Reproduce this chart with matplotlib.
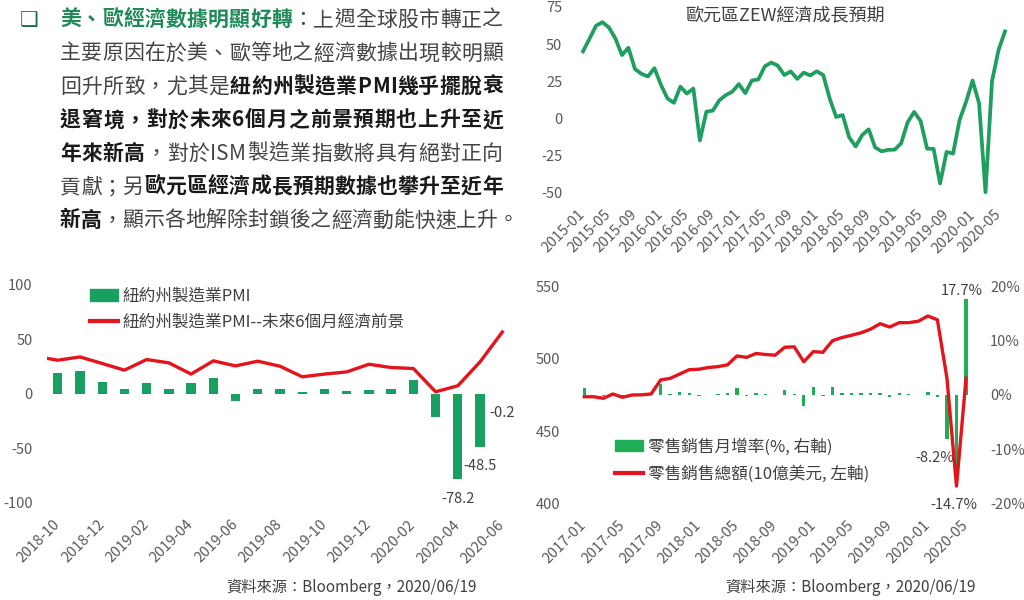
import matplotlib
matplotlib.use('Agg')
import matplotlib.pyplot as plt
from matplotlib.patches import Patch
from matplotlib.lines import Line2D
from matplotlib.font_manager import FontProperties, findfont, get_font
import numpy as np
import pandas as pd

try:
    from matplotlib.ft2font import LoadFlags
    NOHINT = LoadFlags.NO_HINTING
except ImportError:
    from matplotlib.ft2font import LOAD_NO_HINTING as NOHINT

plt.rcParams['font.family'] = ['Noto Sans CJK TC', 'DejaVu Sans']
plt.rcParams['axes.unicode_minus'] = False

# 歐元區ZEW經濟成長預期, 2015-01 ~ 2020-06
zew_months = pd.date_range('2015-01', periods=66, freq='MS').strftime('%Y-%m').tolist()
zew = [45.2, 53.7, 62.4, 64.8, 61.2, 53.7, 42.7, 47.6, 33.3, 30.1, 28.3, 33.9,
       22.7, 13.6, 10.6, 21.5, 16.8, 20.2, -14.7, 4.6, 5.4, 12.3, 15.8, 18.1,
       23.2, 17.1, 25.6, 26.3, 35.1, 37.7, 35.6, 29.3, 31.7, 26.7, 30.9, 29.0,
       31.8, 29.3, 13.4, 1.1, 2.4, -12.6, -18.7, -11.1, -7.2, -19.4, -22.0, -21.0,
       -20.9, -16.6, -2.5, 4.5, -1.6, -20.2, -20.3, -43.6, -22.4, -23.5, -1.0, 11.2,
       25.6, 10.4, -49.5, 25.2, 46.0, 58.6]

# 紐約州製造業PMI, 2018-10 ~ 2020-06
pmi_months = pd.date_range('2018-10', periods=21, freq='MS').strftime('%Y-%m').tolist()
pmi = [19.2, 20.7, 10.7, 4.3, 10.0, 4.6, 9.4, 14.5, -6.4, 4.3, 4.3, 1.6, 4.0, 2.8,
       3.4, 4.4, 12.5, -21.5, -78.2, -48.5, -0.2]
# 未來6個月經濟前景, 從2018-09開始 (左邊被裁掉半格)
pmi_future = [34.3, 30.7, 33.7, 27.7, 21.6, 31.3, 28.3, 18.0, 30.1, 25.5, 29.8,
              25.2, 15.5, 18.0, 20.0, 27.0, 24.0, 23.1, 1.8, 7.3, 29.2, 56.5]
pmi_labeled = [18, 19, 20]

# 美國零售銷售, 2017-01 ~ 2020-05
retail_months = pd.date_range('2017-01', periods=41, freq='MS').strftime('%Y-%m').tolist()
retail_total = [473.8, 473.8, 472.7, 475.7, 473.4, 475.0, 475.1, 475.7, 485.4, 486.5,
                489.5, 492.5, 492.8, 494.0, 494.6, 495.8, 502.0, 501.0, 503.7, 503.0,
                502.5, 508.0, 508.3, 498.0, 505.0, 504.5, 512.5, 514.7, 516.3, 518.0,
                520.5, 524.3, 522.0, 525.0, 525.0, 526.0, 529.6, 527.0, 486.6, 412.0,
                486.6]
retail_mom = [1.2, 0.05, -0.1, 0.1, -0.1, 0.1, 0.05, 0.1, 2.1, 0.2, 0.6, 0.4,
              -0.1, 0.05, 0.1, 0.3, 1.2, -0.15, 0.4, 0.1, 0.05, 1.0, 0.1, -2.1,
              1.4, -0.1, 1.5, 0.4, 0.3, 0.3, 0.3, 0.3, -0.3, 0.3, 0.1, 0.05,
              0.6, -0.3, -8.2, -14.7, 17.7]

# 左上角文字
text_lines = [
    [('美、歐經濟數據明顯好轉', 'head'), ('：上週全球股市轉正之', 'norm')],
    [('主要原因在於美、歐等地之經濟數據出現較明顯', 'norm')],
    [('回升所致，尤其是', 'norm'), ('紐約州製造業PMI幾乎擺脫衰', 'bold')],
    [('退窘境，對於未來6個月之前景預期也上升至近', 'bold')],
    [('年來新高', 'bold'), ('，對於ISM製造業指數將具有絕對正向', 'norm')],
    [('貢獻；另', 'norm'), ('歐元區經濟成長預期數據也攀升至近年', 'bold')],
    [('新高', 'bold'), ('，顯示各地解除封鎖後之經濟動能快速上升。', 'norm')],
]
styles = {'head': ('bold', '#1f8a58'), 'norm': ('normal', '#444444'), 'bold': ('bold', '#1a1a1a')}
source = '資料來源：Bloomberg，2020/06/19'

GREEN = '#1a9f62'
GREEN2 = '#1fae55'
LINE_GREEN = '#1f9e5f'
RED = '#e3141c'
TICK = '#595959'
W, H = 1024, 600


def char_width(ch, weight, size):
    font = get_font(findfont(FontProperties(family='Noto Sans CJK TC', weight=weight)))
    font.set_size(size, 100)
    return font.load_char(ord(ch), flags=NOHINT).linearHoriAdvance / 65536


def clean(ax):
    for s in ax.spines.values():
        s.set_visible(False)
    ax.tick_params(length=0, labelsize=10.5, labelcolor=TICK)


fig = plt.figure(figsize=(10.24, 6), dpi=100)

# ---- 文字區 ----
fig.text(29 / W, 1 - 20 / H, '❑', family=['DejaVu Sans'], fontsize=15,
         color='#1e6b45', ha='center', va='center', fontweight='bold')
x0, x1, size = 60, 503, 15
for k, line in enumerate(text_lines):
    chars = [(c, st) for txt, st in line for c in txt]
    widths = [char_width(c, styles[st][0], size) for c, st in chars]
    gap = 0 if k == len(text_lines) - 1 else (x1 - x0 - sum(widths)) / (len(chars) - 1)
    x = x0
    yb = 26 + 33.4 * k
    for (c, st), w in zip(chars, widths):
        fig.text((x + w / 2) / W, 1 - yb / H, c, ha='center', va='baseline',
                 fontsize=size, fontweight=styles[st][0], color=styles[st][1])
        x += w + gap

# ---- 右上: ZEW ----
ax1 = fig.add_axes([583 / W, 1 - 193 / H, 422 / W, 186 / H])
xz = np.arange(len(zew))
ax1.plot(xz, zew, color=LINE_GREEN, lw=2.7, clip_on=False, solid_joinstyle='round')
ax1.set_xlim(0, len(zew) - 1)
ax1.set_ylim(-50, 75)
ax1.set_yticks([75, 50, 25, 0, -25, -50])
ax1.set_xticks(xz[::4])
ax1.set_xticklabels(zew_months[::4], rotation=45, ha='right', va='center',
                    rotation_mode='anchor')
clean(ax1)
ax1.tick_params(axis='y', pad=15)
ax1.tick_params(axis='x', pad=14)
ax1.text(0.479, 0.957, '歐元區ZEW經濟成長預期', transform=ax1.transAxes,
         ha='center', va='center', fontsize=13, color='#404040')

# ---- 左下: 紐約州製造業PMI ----
ax2 = fig.add_axes([46.6 / W, 1 - 503 / H, 466.8 / W, 218.5 / H])
xp = np.arange(len(pmi))
ax2.bar(xp, pmi, width=0.42, color=GREEN)
ax2.plot(np.arange(-1, len(pmi)), pmi_future, color=RED, lw=2.4)
ax2.set_xlim(-0.5, len(pmi) - 0.5)
ax2.set_ylim(-100, 100)
ax2.set_yticks([100, 50, 0, -50, -100])
ax2.set_xticks(xp[::2])
ax2.set_xticklabels(pmi_months[::2], rotation=45, ha='right', va='center',
                    rotation_mode='anchor')
clean(ax2)
ax2.tick_params(axis='y', pad=10)
ax2.tick_params(axis='x', pad=14)
for i in pmi_labeled:
    ax2.annotate(f'{pmi[i]:.1f}', (i, pmi[i]), xytext=(0, -14), textcoords='offset points',
                 ha='center', va='center', fontsize=10.5, color='#404040')
ax2.legend(handles=[Patch(color=GREEN, label='紐約州製造業PMI'),
                    Line2D([], [], color=RED, lw=3, label='紐約州製造業PMI--未來6個月經濟前景')],
           loc='upper left', bbox_to_anchor=(90 / W, 1 - 288 / H),
           bbox_transform=fig.transFigure, frameon=False, fontsize=12,
           handlelength=1.7, handletextpad=0.25, labelspacing=0.5,
           borderpad=0, borderaxespad=0, labelcolor='#404040')
fig.text(352 / W, 1 - 587 / H, source, ha='center', va='center', fontsize=11, color='#404040')

# ---- 右下: 零售銷售 ----
ax4 = fig.add_axes([579.5 / W, 1 - 503.5 / H, 391.3 / W, 217 / H])
ax4b = ax4.twinx()
xr = np.arange(len(retail_total))
ax4b.bar(xr, retail_mom, width=0.36, color=GREEN2)
ax4.plot(xr, retail_total, color=RED, lw=2.4)
ax4.set_zorder(ax4b.get_zorder() + 1)
ax4.patch.set_visible(False)
ax4.set_xlim(-0.5, len(retail_total) - 0.5)
ax4.set_ylim(400, 550)
ax4b.set_ylim(-20, 20)
ax4.set_yticks([550, 500, 450, 400])
ax4b.set_yticks([20, 10, 0, -10, -20])
ax4b.set_yticklabels([f'{v}%' for v in [20, 10, 0, -10, -20]])
ax4.set_xticks(xr[::4])
ax4.set_xticklabels(retail_months[::4], rotation=45, ha='right', va='center',
                    rotation_mode='anchor')
clean(ax4)
clean(ax4b)
ax4.tick_params(axis='y', pad=14)
ax4b.tick_params(axis='y', pad=14)
ax4.tick_params(axis='x', pad=14)
for i, dx, dy in [(38, -8.5, -13), (39, -2, -21.5), (40, -3, 5.5)]:
    ax4b.annotate(f'{retail_mom[i]:.1f}%', (i, retail_mom[i]), xytext=(dx, dy),
                  textcoords='offset points', ha='center', va='center',
                  fontsize=10.5, color='#404040')
ax4.legend(handles=[Patch(color=GREEN2, label='零售銷售月增率(%, 右軸)'),
                    Line2D([], [], color=RED, lw=3, label='零售銷售總額(10億美元, 左軸)')],
           loc='upper left', bbox_to_anchor=(615 / W, 1 - 438 / H),
           bbox_transform=fig.transFigure, frameon=False, fontsize=12,
           handlelength=1.7, handletextpad=0.25, labelspacing=0.6,
           borderpad=0, borderaxespad=0, labelcolor='#404040')
fig.text(851 / W, 1 - 587 / H, source, ha='center', va='center', fontsize=11, color='#404040')

fig.savefig('out.png', dpi=100)
